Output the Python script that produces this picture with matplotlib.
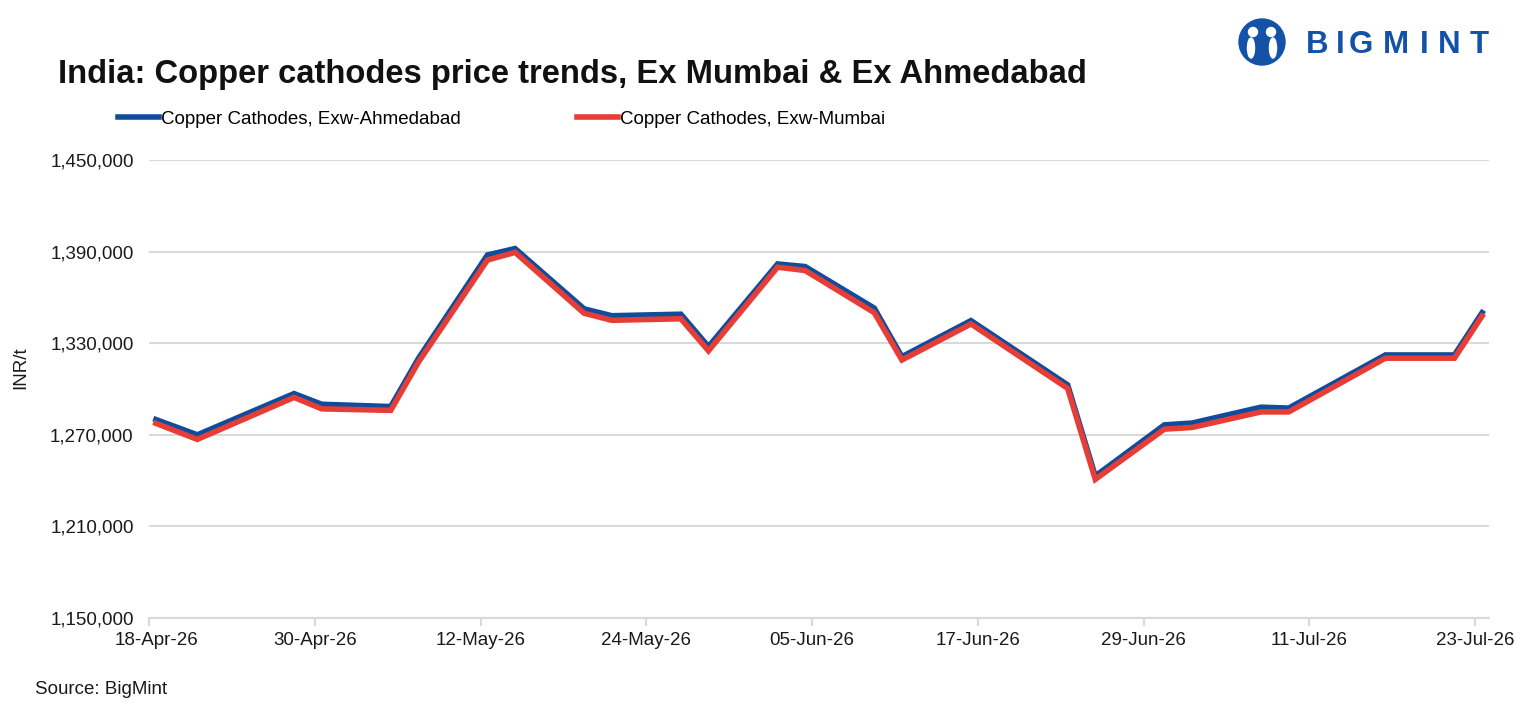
import matplotlib
matplotlib.use("Agg")
import matplotlib.pyplot as plt
import matplotlib.dates as mdates
import matplotlib.transforms as mtransforms
from matplotlib.patches import Circle, Ellipse
from matplotlib.ticker import FuncFormatter, FixedLocator
import pandas as pd

plt.rcParams['font.family'] = ['Liberation Sans', 'DejaVu Sans']

dates = ["2026-04-18", "2026-04-21", "2026-04-28", "2026-04-30", "2026-05-05",
         "2026-05-07", "2026-05-12", "2026-05-14", "2026-05-19", "2026-05-21",
         "2026-05-26", "2026-05-28", "2026-06-02", "2026-06-04", "2026-06-09",
         "2026-06-11", "2026-06-16", "2026-06-23", "2026-06-25", "2026-06-30",
         "2026-07-02", "2026-07-07", "2026-07-09", "2026-07-16", "2026-07-21",
         "2026-07-23"]
ahmedabad = [1280000, 1270000, 1297000, 1290000, 1288500, 1320000, 1387800,
             1392000, 1352500, 1348000, 1349000, 1327800, 1381900, 1380200,
             1353000, 1321200, 1344800, 1302700, 1243000, 1276500, 1277700,
             1288100, 1287500, 1322300, 1322300, 1350000]
mumbai = [1277500, 1267000, 1294500, 1287000, 1286000, 1317500, 1384500,
          1389500, 1349600, 1345000, 1346000, 1325000, 1379800, 1377600,
          1350000, 1319000, 1342600, 1300400, 1240800, 1273700, 1274800,
          1285000, 1285000, 1320200, 1320200, 1347800]
tick_dates = ["2026-04-18", "2026-04-30", "2026-05-12", "2026-05-24", "2026-06-05",
              "2026-06-17", "2026-06-29", "2026-07-11", "2026-07-23"]
y_ticks = [1150000, 1210000, 1270000, 1330000, 1390000, 1450000]

title = "India: Copper cathodes price trends, Ex Mumbai & Ex Ahmedabad"
series_names = ["Copper Cathodes, Exw-Ahmedabad", "Copper Cathodes, Exw-Mumbai"]
blue = "#0f4d9c"
red = "#e63d36"
logo_blue = "#1452a8"

W, H = 1528, 725
fig = plt.figure(figsize=(W / 100, H / 100), dpi=100)
ax = fig.add_axes([149 / W, 1 - 618 / H, (1489 - 149) / W, (618 - 160) / H])

# Excel places points in the middle of each day slot
x = pd.to_datetime(dates) + pd.Timedelta(hours=12)
l1, = ax.plot(x, ahmedabad, color=blue, lw=4.0, solid_joinstyle='miter', label=series_names[0], zorder=3)
l2, = ax.plot(x, mumbai, color=red, lw=4.0, solid_joinstyle='miter', label=series_names[1], zorder=4)

ax.set_xlim(pd.Timestamp("2026-04-18"), pd.Timestamp("2026-07-24"))
ax.set_ylim(1150000, 1450000)
ax.xaxis.set_major_locator(FixedLocator(mdates.date2num(pd.to_datetime(tick_dates))))
ax.xaxis.set_major_formatter(mdates.DateFormatter("%d-%b-%y"))
ax.set_yticks(y_ticks)
ax.yaxis.set_major_formatter(FuncFormatter(lambda v, p: f"{int(v):,}"))

ax.grid(axis='y', color='#d9d9d9', lw=1.5)
ax.set_axisbelow(True)
for s in ['top', 'right', 'left']:
    ax.spines[s].set_visible(False)
ax.spines['bottom'].set_color('#d9d9d9')
ax.spines['bottom'].set_linewidth(1.5)
ax.tick_params(axis='x', colors='#d9d9d9', length=6, width=1.5, labelcolor='#1a1a1a',
               labelsize=13.5, pad=4)
ax.tick_params(axis='y', length=0, labelsize=13.5, labelcolor='#1a1a1a', pad=11)
ax.set_ylabel("INR/t", fontsize=13.5, color='#1a1a1a')
ax.yaxis.set_label_coords((29 - 149) / 1340, 0.546)

fig.canvas.draw()
first = ax.get_xticklabels()[0]
first.set_transform(first.get_transform() + mtransforms.ScaledTranslation(8 / 100, 0, fig.dpi_scale_trans))

fig.text(58 / W, 1 - 75 / H, title, fontsize=23.6, fontweight='bold', color='#111111',
         va='center', ha='left')

leg = fig.legend(handles=[l1, l2], loc='center left', bbox_to_anchor=(118 / W, 1 - 119 / H),
                 ncol=2, frameon=False, fontsize=13.5, handlelength=2.2, handletextpad=0.1,
                 columnspacing=6.2, borderaxespad=0, borderpad=0)

fig.text(35 / W, 1 - 690 / H, "Source: BigMint", fontsize=13.5, color='#1a1a1a',
         va='center', ha='left')

# Logo
lax = fig.add_axes([0, 0, 1, 1], facecolor='none')
lax.set_xlim(0, W)
lax.set_ylim(H, 0)
lax.axis('off')
lax.add_patch(Circle((1262, 42), 23, color=logo_blue))
lax.add_patch(Circle((1253, 32), 4.5, color='white'))
lax.add_patch(Circle((1271, 32), 4.5, color='white'))
lax.add_patch(Ellipse((1251, 48), 7, 20, color='white'))
lax.add_patch(Ellipse((1273, 48), 7, 20, color='white'))
letters = "BIGMINT"
lx = [1317, 1340, 1361, 1396, 1424, 1449, 1479]
for ch, px in zip(letters, lx):
    lax.text(px, 45, ch, fontsize=22.5, fontweight='heavy', color=logo_blue,
             ha='center', va='center')

fig.savefig("out.png", dpi=100, facecolor='white')
